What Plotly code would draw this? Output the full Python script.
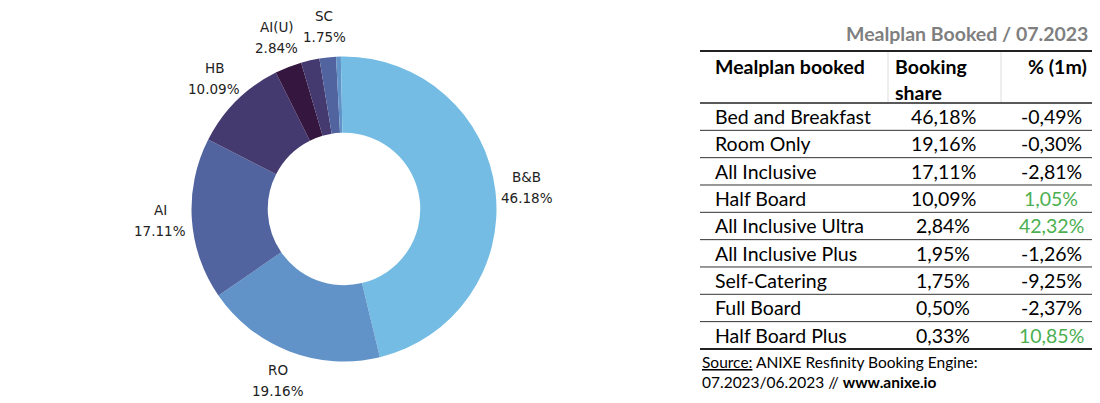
import math
import plotly.graph_objects as go

# ---------------- data ----------------
pie_labels = ["B&B", "RO", "AI", "HB", "AI(U)", "AI(P)", "SC", "FB", "HB+"]
pie_values = [46.18, 19.16, 17.11, 10.09, 2.84, 1.95, 1.75, 0.50, 0.33]
pie_show_label = [True, True, True, True, True, False, True, False, False]
pie_colors = ["#74bce4", "#6192c8", "#51649f", "#453a6f", "#35163f",
              "#453a6f", "#51649f", "#6192c8", "#74bce4"]

table_title = "Mealplan Booked / 07.2023"
table_headers = ["Mealplan booked", "Booking<br>share", "% (1m)"]
table_names = ["Bed and Breakfast", "Room Only", "All Inclusive", "Half Board",
               "All Inclusive Ultra", "All Inclusive Plus", "Self-Catering",
               "Full Board", "Half Board Plus"]
table_share = [46.18, 19.16, 17.11, 10.09, 2.84, 1.95, 1.75, 0.50, 0.33]
table_change = [-0.49, -0.30, -2.81, 1.05, 42.32, -1.26, -9.25, -2.37, 10.85]
source_line1 = "<u>Source:</u> ANIXE Resfinity Booking Engine:"
source_line2 = "07.2023/06.2023 // <b>www.anixe.io</b>"

# ---------------- layout helpers ----------------
OFF = 8                      # page body margin of the browser
W, H = 1100 - OFF, 403 - OFF
def px(x):
    return (x - OFF) / W
def py(y):
    return 1 - (y - OFF) / H

cx, cy, R = 344, 209, 152.5
green = "#4caf50"
font_tab = "Lato"
fs_tab = 19.5

fig = go.Figure()
fig.add_trace(go.Pie(
    labels=pie_labels, values=pie_values, sort=False, direction="clockwise",
    rotation=0, hole=0.5, textinfo="none", hoverinfo="label+value",
    marker=dict(colors=pie_colors, line=dict(width=0)),
    domain=dict(x=[px(cx - R), px(cx + R)], y=[py(cy + R), py(cy - R)]),
    showlegend=False,
))

annotations = []
shapes = []

# pie labels placed at the slice mid-angles
total = sum(pie_values)
cum = 0.0
r_lab = 184
for lab, val, show in zip(pie_labels, pie_values, pie_show_label):
    mid = (cum + val / 2) / total * 2 * math.pi
    cum += val
    if not show:
        continue
    lx = cx + r_lab * math.sin(mid)
    ly = cy - r_lab * math.cos(mid)
    pct = f"{val:.2f}%"
    for txt, dy in ((lab, -10.5), (pct, 10.5)):
        annotations.append(dict(
            x=px(lx), y=py(ly + dy), xref="paper", yref="paper",
            text=txt, showarrow=False, xanchor="center", yanchor="middle",
            font=dict(family="DejaVu Sans", size=13.5, color="#222222")))

# ---------------- table ----------------
tx0, tx1 = 700, 1100
col1_x, col2_x, col3_x = 713, 943, 1051
top_line, head_line = 51, 103
row_h = 27.33

annotations.append(dict(
    x=px(1090), y=py(33), xref="paper", yref="paper", text=f"<b>{table_title}</b>",
    showarrow=False, xanchor="right", yanchor="middle",
    font=dict(family=font_tab, size=fs_tab, color="#7f7f7f")))

# header
annotations.append(dict(x=px(col1_x), y=py(66), xref="paper", yref="paper",
                        text=f"<b>{table_headers[0]}</b>", showarrow=False,
                        xanchor="left", yanchor="middle",
                        font=dict(family=font_tab, size=fs_tab, color="black")))
for i, word in enumerate(table_headers[1].split("<br>")):
    annotations.append(dict(x=px(893), y=py(66 + 26 * i), xref="paper", yref="paper",
                            text=f"<b>{word}</b>", showarrow=False,
                            xanchor="left", yanchor="middle",
                            font=dict(family=font_tab, size=fs_tab, color="black")))
annotations.append(dict(x=px(1089), y=py(66), xref="paper", yref="paper",
                        text=f"<b>{table_headers[2]}</b>", showarrow=False,
                        xanchor="right", yanchor="middle",
                        font=dict(family=font_tab, size=fs_tab, color="black")))

# header vertical separators
for vx in (888, 1001):
    shapes.append(dict(type="line", xref="paper", yref="paper",
                       x0=px(vx), x1=px(vx), y0=py(top_line + 1), y1=py(head_line - 1),
                       line=dict(color="#dddddd", width=1)))

# rows
for i, (name, sh, ch) in enumerate(zip(table_names, table_share, table_change)):
    yc = head_line + row_h * (i + 0.5)
    annotations.append(dict(x=px(col1_x), y=py(yc), xref="paper", yref="paper",
                            text=name, showarrow=False, xanchor="left", yanchor="middle",
                            font=dict(family=font_tab, size=fs_tab, color="black")))
    annotations.append(dict(x=px(col2_x), y=py(yc), xref="paper", yref="paper",
                            text=f"{sh:.2f}%".replace(".", ","), showarrow=False,
                            xanchor="center", yanchor="middle",
                            font=dict(family=font_tab, size=fs_tab, color="black")))
    annotations.append(dict(x=px(col3_x), y=py(yc), xref="paper", yref="paper",
                            text=f"{ch:.2f}%".replace(".", ","), showarrow=False,
                            xanchor="center", yanchor="middle",
                            font=dict(family=font_tab, size=fs_tab,
                                      color=green if ch > 0 else "black")))

# horizontal lines
n = len(table_names)
shapes.append(dict(type="line", xref="paper", yref="paper", x0=px(tx0), x1=px(tx1),
                   y0=py(top_line), y1=py(top_line), line=dict(color="#222222", width=2)))
shapes.append(dict(type="line", xref="paper", yref="paper", x0=px(tx0), x1=px(tx1),
                   y0=py(head_line), y1=py(head_line), line=dict(color="#222222", width=1.5)))
for i in range(1, n):
    yl = head_line + row_h * i
    shapes.append(dict(type="line", xref="paper", yref="paper", x0=px(tx0), x1=px(tx1),
                       y0=py(yl), y1=py(yl), line=dict(color="#333333", width=1)))
yb = head_line + row_h * n
shapes.append(dict(type="line", xref="paper", yref="paper", x0=px(tx0), x1=px(tx1),
                   y0=py(yb), y1=py(yb), line=dict(color="#222222", width=2)))

# source
annotations.append(dict(x=px(700), y=py(362), xref="paper", yref="paper",
                        text=source_line1, showarrow=False, xanchor="left", yanchor="middle",
                        font=dict(family=font_tab, size=15.5, color="black")))
annotations.append(dict(x=px(700), y=py(382), xref="paper", yref="paper",
                        text=source_line2, showarrow=False, xanchor="left", yanchor="middle",
                        font=dict(family=font_tab, size=15.5, color="black")))

fig.update_layout(
    width=W, height=H, margin=dict(l=0, r=0, t=0, b=0),
    paper_bgcolor="white", plot_bgcolor="white",
    annotations=annotations, shapes=shapes,
)
fig.write_html("out.html")
